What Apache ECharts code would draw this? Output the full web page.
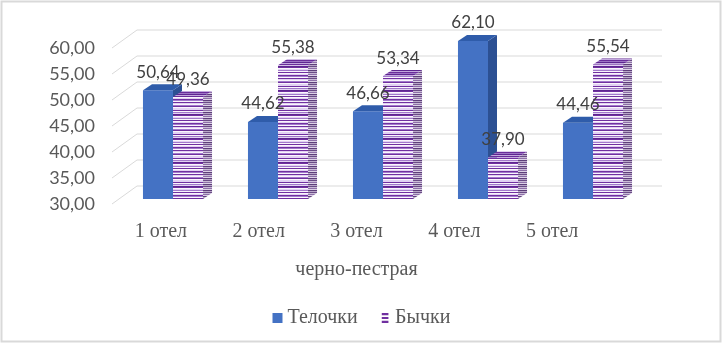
<!DOCTYPE html>
<html>
<head>
<meta charset="utf-8">
<script src="https://cdn.jsdelivr.net/npm/echarts@6/dist/echarts.min.js"></script>
<style>
html, body { margin: 0; padding: 0; background: #fff; }
#chart { width: 723px; height: 344px; }
</style>
</head>
<body>
<div id="chart"></div>
<script>
// данные
const categories = ['1 отел', '2 отел', '3 отел', '4 отел', '5 отел'];
const heifers = [50.64, 44.62, 46.66, 62.10, 44.46]; // Телочки
const bulls = [49.36, 55.38, 53.34, 37.90, 55.54];   // Бычки
const yTicks = [30, 35, 40, 45, 50, 55, 60];
const yMin = 30, yMax = 60, yStep = 5;

const fmt = v => v.toFixed(2).replace('.', ',');

// полосатая заливка для бычков
function stripes(rows) {
    const c = document.createElement('canvas');
    c.width = 4; c.height = rows.length;
    const ctx = c.getContext('2d');
    rows.forEach((col, i) => { ctx.fillStyle = col; ctx.fillRect(0, i, 4, 1); });
    return c;
}
const P = '#7030A0', W = '#FAF6FD', L = '#E2D2F2', M = '#A27ACB', D = '#5E2590';
const purpleFront = stripes([P, W, L, P, M, W, P, L, W, M, P, W, L, L, P, W, M, L, D, P, W, L, M, W]);
const purpleSide = stripes(['#6B4C86', '#C9BBD6', '#8E6FA8', '#DCD2E6', '#5E3F7A', '#B8A6C8']);
const purpleTop = stripes(['#6A2C9A', '#9C74C4', '#5E2590', '#C2A8DE']);

const blueFaces = { front: '#4472C4', side: '#2C5093', top: '#2F5CAA' };
const purpleFaces = {
    front: { image: purpleFront, repeat: 'repeat' },
    side: { image: purpleSide, repeat: 'repeat' },
    top: { image: purpleTop, repeat: 'repeat' }
};

// объёмный столбик
function barRenderer(side, faces) {
    return function (params, api) {
        const i = api.value(0), v = api.value(1);
        const top = Math.min(v, yMax);
        const base = api.coord([i, yMin]);
        const head = api.coord([i, top]);
        const bw = api.size([1, 0])[0] * 0.286;
        const x0 = side === 'left' ? base[0] - bw : base[0];
        const x1 = x0 + bw, yb = base[1], yt = head[1];
        const dx = 9, dy = -6;
        return {
            type: 'group',
            children: [
                { type: 'rect', shape: { x: x0, y: yt, width: bw, height: yb - yt }, style: { fill: faces.front } },
                { type: 'polygon', shape: { points: [[x1, yt], [x1 + dx, yt + dy], [x1 + dx, yb + dy], [x1, yb]] }, style: { fill: faces.side } },
                { type: 'polygon', shape: { points: [[x0, yt], [x1, yt], [x1 + dx, yt + dy], [x0 + dx, yt + dy]] }, style: { fill: faces.top } },
                { type: 'text', x: (x0 + x1) / 2, y: yt - 18, z2: 100,
                  style: { text: fmt(v), align: 'center', verticalAlign: 'middle', font: '17px Lato', fill: '#404040' } }
            ]
        };
    };
}

// задняя стенка с линиями сетки
function wallRenderer(params, api) {
    const p = api.coord([0, api.value(1)]);
    const cs = params.coordSys;
    const xL = cs.x, xR = cs.x + cs.width + 61;
    return {
        type: 'polyline',
        shape: { points: [[xL, p[1]], [xL + 25, p[1] - 18], [xR, p[1] - 18]] },
        style: { stroke: '#D9D9D9', lineWidth: 1, fill: null }
    };
}

const serif = 'Liberation Serif';
const chart = echarts.init(document.getElementById('chart'));
chart.setOption({
    animation: false,
    graphic: [{
        type: 'rect', shape: { x: 1.5, y: 1.5, width: 719, height: 340 },
        style: { fill: null, stroke: '#D9D9D9', lineWidth: 2 }, silent: true
    }],
    legend: {
        left: 'center', top: 303,
        itemWidth: 10, itemHeight: 10, itemGap: 24,
        textStyle: { fontFamily: serif, fontSize: 20, color: '#595959' },
        data: [
            { name: 'Телочки', icon: 'rect' },
            { name: 'Бычки', icon: 'path://M0,0H6V2H0Z M0,3.5H6V5.5H0Z M0,7H6V9H0Z' }
        ]
    },
    grid: [
        { left: 120.5, width: 525, top: 41, height: 158 },
        { left: 112, width: 489, top: 48, height: 156 }
    ],
    xAxis: [
        { gridIndex: 0, type: 'category', data: categories, show: false },
        {
            gridIndex: 1, type: 'category', data: categories,
            axisLine: { show: false }, axisTick: { show: false },
            axisLabel: { margin: 18, fontFamily: serif, fontSize: 20, color: '#595959' },
            name: 'черно-пестрая', nameLocation: 'middle', nameGap: 56,
            nameTextStyle: { fontFamily: serif, fontSize: 20, color: '#595959' }
        }
    ],
    yAxis: [
        { gridIndex: 0, type: 'value', min: yMin, max: yMax, interval: yStep, show: false },
        {
            gridIndex: 1, type: 'value', min: yMin, max: yMax, interval: yStep,
            axisLine: { show: false }, axisTick: { show: false }, splitLine: { show: false },
            axisLabel: { margin: 17, formatter: fmt, fontFamily: 'Lato', fontSize: 18, color: '#595959' }
        }
    ],
    series: [
        {
            name: 'wall', type: 'custom', xAxisIndex: 1, yAxisIndex: 1,
            renderItem: wallRenderer, data: yTicks.map(v => [0, v]), silent: true
        },
        {
            name: 'Телочки', type: 'custom', xAxisIndex: 0, yAxisIndex: 0,
            itemStyle: { color: blueFaces.front },
            renderItem: barRenderer('left', blueFaces),
            data: heifers.map((v, i) => [i, v])
        },
        {
            name: 'Бычки', type: 'custom', xAxisIndex: 0, yAxisIndex: 0,
            itemStyle: { color: '#7030A0' },
            renderItem: barRenderer('right', purpleFaces),
            data: bulls.map((v, i) => [i, v])
        }
    ]
});
</script>
</body>
</html>
